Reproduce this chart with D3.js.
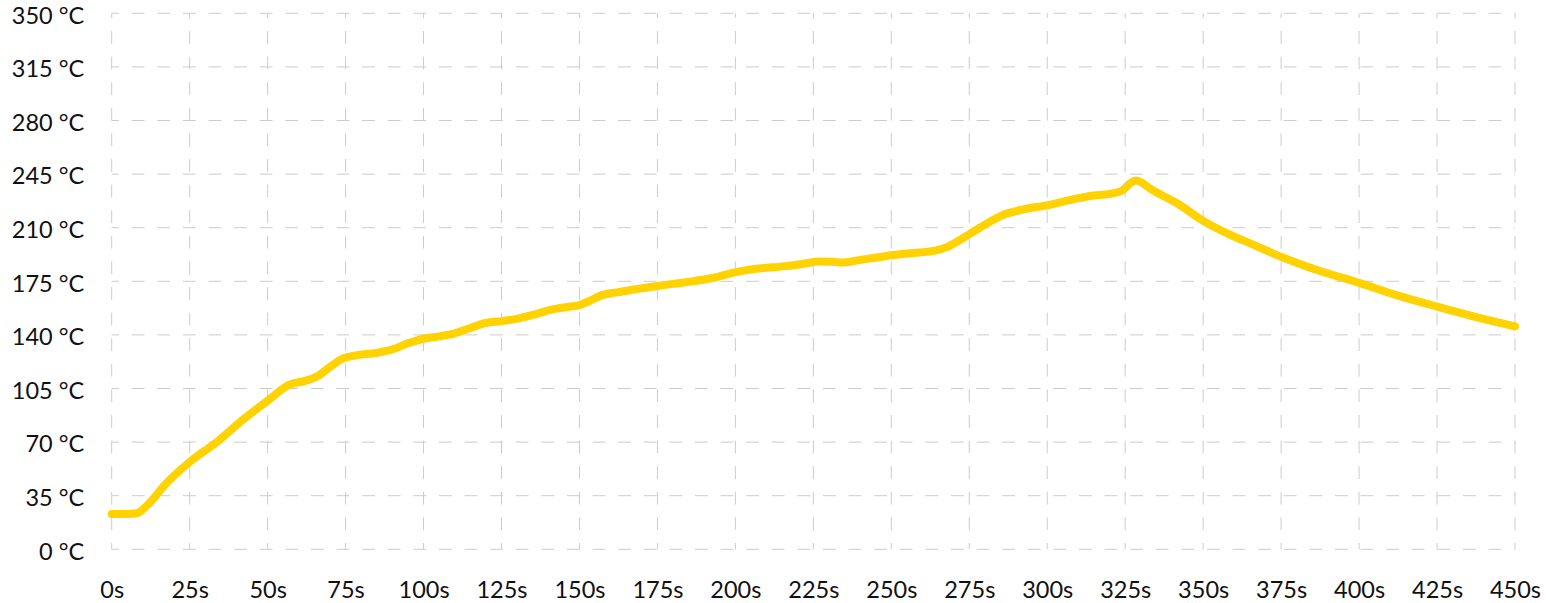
<!DOCTYPE html>
<html>
<head>
<meta charset="utf-8">
<script src="https://cdn.jsdelivr.net/npm/d3@7"></script>
<style>
  body { margin: 0; background: #fff; }
  text { font-family: Lato, "Noto Sans", sans-serif; font-size: 23.5px; fill: #111; }
</style>
</head>
<body>
<div id="chart"></div>
<script>
// chart size
var svgWidth = 1546;
var svgHeight = 603;

// plot area edges (grid box)
var margin = {top: 13.3, right: 31, bottom: 53.7, left: 111.7};
var width = svgWidth - margin.left - margin.right;
var height = svgHeight - margin.top - margin.bottom;

// data: time (s) and temperature (°C)
var times = [0, 5, 8, 12, 17, 25, 34, 42, 50, 57, 62, 66, 70, 74, 78, 85, 90, 95, 100, 105,
             110, 115, 120, 125, 131, 135, 141, 147, 150, 153, 157, 162, 168, 176, 184, 193,
             199, 206, 216, 222, 227, 231, 234, 240, 248, 256, 264, 268, 272, 278, 286, 293,
             300, 307, 315, 321, 324, 326.5, 328.5, 330.5, 333, 336, 342, 350, 358, 366, 375, 387,
             400, 412, 425, 437, 450];
var temps = [23, 23, 23.5, 30, 42, 57, 70.5, 84.5, 97, 107.5, 110, 113, 119, 124.5, 126.5, 128.3, 130.5, 134.5, 137.5, 139,
             141, 144.5, 147.8, 149, 151, 153, 156.5, 158.5, 159.5, 162, 165.8, 167.8, 169.8, 172.3, 174.4, 177.3,
             180.5, 183, 184.9, 186.5, 188, 187.8, 187.2, 189, 191.4, 193.3, 195, 197.5, 202, 209.5, 218.5, 222.2,
             224.6, 228, 231, 232.4, 234.2, 238.8, 240.8, 239.2, 235.5, 232, 225.5, 214.5, 206, 199, 191, 182,
             174, 166, 158.5, 152, 145.6];

// tick labels
var xTicks = d3.range(0, 451, 25);
var yTicks = d3.range(0, 351, 35);

var svg = d3.select("#chart")
   .append("svg")
   .attr("width", svgWidth)
   .attr("height", svgHeight);

var chart = svg.append("g")
   .attr("transform", `translate(${margin.left}, ${margin.top})`);

var xScale = d3.scaleLinear().domain([0, 450]).range([0, width]);
var yScale = d3.scaleLinear().domain([0, 350]).range([height, 0]);

// horizontal dashed grid
chart.append("g")
   .selectAll("line")
   .data(yTicks)
   .enter()
   .append("line")
   .attr("x1", 0)
   .attr("x2", width)
   .attr("y1", d => yScale(d))
   .attr("y2", d => yScale(d))
   .attr("stroke", "#cccccc")
   .attr("stroke-width", 1)
   .attr("stroke-dasharray", "12.8,12.8")
   .attr("stroke-dashoffset", 5.6);

// vertical dashed grid
chart.append("g")
   .selectAll("line")
   .data(xTicks)
   .enter()
   .append("line")
   .attr("x1", d => xScale(d))
   .attr("x2", d => xScale(d))
   .attr("y1", 0)
   .attr("y2", height)
   .attr("stroke", "#cccccc")
   .attr("stroke-width", 1)
   .attr("stroke-dasharray", "12.8,12.8")
   .attr("stroke-dashoffset", 7.9);

// axes (labels only, no domain lines)
var bottomAxis = d3.axisBottom(xScale)
   .tickValues(xTicks)
   .tickSize(0)
   .tickPadding(0)
   .tickFormat(d => d + "s");

var leftAxis = d3.axisLeft(yScale)
   .tickValues(yTicks)
   .tickSize(0)
   .tickPadding(0)
   .tickFormat(d => d + " °C");

var xAxis = chart.append("g")
   .attr("transform", `translate(0, ${height})`)
   .call(bottomAxis);
xAxis.select(".domain").remove();
xAxis.selectAll("text")
   .attr("y", 40)
   .attr("dy", "0.35em")
   .style("font-family", "Lato, 'Noto Sans', sans-serif")
   .style("font-size", "23.5px")
   .attr("fill", "#111");

var yAxis = chart.append("g")
   .call(leftAxis);
yAxis.select(".domain").remove();
yAxis.selectAll("text")
   .attr("x", -27.5)
   .attr("dy", "0.42em")
   .style("font-family", "Lato, 'Noto Sans', sans-serif")
   .style("font-size", "23.5px")
   .attr("fill", "#111");

// temperature line
var points = times.map((t, i) => ({x: t, y: temps[i]}));

var createLine = d3.line()
   .x(d => xScale(d.x))
   .y(d => yScale(d.y))
   .curve(d3.curveMonotoneX);

chart.append("path")
   .attr("fill", "none")
   .attr("stroke", "#ffd200")
   .attr("stroke-width", 8)
   .attr("stroke-linecap", "round")
   .attr("stroke-linejoin", "round")
   .attr("d", createLine(points));
</script>
</body>
</html>
